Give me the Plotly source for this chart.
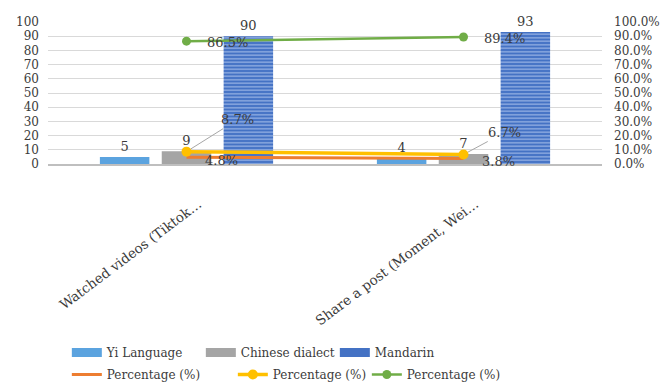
import plotly.graph_objects as go

categories = ["Watched videos (Tiktok…", "Share a post (Moment, Wei…"]
yi_counts = [5, 4]
dialect_counts = [9, 7]
mandarin_counts = [90, 93]
yi_pct = [4.8, 3.8]
dialect_pct = [8.7, 6.7]
mandarin_pct = [86.5, 89.4]
left_ticks = list(range(0, 101, 10))
right_ticks = list(range(0, 101, 10))
right_tick_labels = [f"{v:.1f}%" for v in right_ticks]
bar_names = ["Yi Language", "Chinese dialect", "Mandarin"]
line_name = "Percentage (%)"

FONT = "DejaVu Serif"
TXT = "#3b3b3b"
C_YI = "#5BA3DF"
C_DIA = "#A5A5A5"
C_MAN = "#4472C4"
C_OR = "#ED7D31"
C_YE = "#FFC000"
C_GR = "#70AD47"

fig = go.Figure()

bar_specs = [
    (bar_names[0], yi_counts, C_YI, None),
    (bar_names[1], dialect_counts, C_DIA, None),
    (bar_names[2], mandarin_counts, C_MAN,
     dict(shape="-", bgcolor=C_MAN, fgcolor="#A9C1EC", size=3.5, solidity=0.3)),
]
for name, vals, color, pattern in bar_specs:
    marker = dict(color=color, line=dict(width=0))
    if pattern:
        marker["pattern"] = pattern
    fig.add_trace(go.Bar(
        x=categories, y=vals, name=name, showlegend=False, marker=marker,
        texttemplate="%{y}", textposition="outside",
        textfont=dict(family=FONT, size=13, color=TXT), cliponaxis=False,
    ))

# legend proxies for bars (wide rectangles as in the original)
for name, color in zip(bar_names, [C_YI, C_DIA, C_MAN]):
    fig.add_trace(go.Scatter(x=[None], y=[None], mode="lines", name=name,
                             line=dict(color=color, width=9), legend="legend"))

fig.add_trace(go.Scatter(x=categories, y=yi_pct, yaxis="y2", mode="lines", name=line_name,
                         line=dict(color=C_OR, width=3), legend="legend2", legendwidth=121))
fig.add_trace(go.Scatter(x=categories, y=dialect_pct, yaxis="y2", mode="lines+markers", name=line_name,
                         line=dict(color=C_YE, width=3.5), marker=dict(size=10, color=C_YE),
                         legend="legend2"))
fig.add_trace(go.Scatter(x=categories, y=mandarin_pct, yaxis="y2", mode="lines+markers", name=line_name,
                         line=dict(color=C_GR, width=2.5), marker=dict(size=9, color=C_GR),
                         legend="legend2"))

afont = dict(family=FONT, size=13, color=TXT)
annotations = []
for c, v in zip(categories, yi_pct):
    annotations.append(dict(x=c, y=v, xref="x", yref="y2", text=f"{v}%", showarrow=False,
                            xanchor="left", yanchor="middle", xshift=16, yshift=-3, font=afont))
for c, v in zip(categories, mandarin_pct):
    annotations.append(dict(x=c, y=v, xref="x", yref="y2", text=f"{v}%", showarrow=False,
                            xanchor="left", yanchor="middle", xshift=18, yshift=-1, font=afont))
for (c, v), (ax, ay) in zip(zip(categories, dialect_pct), [(51, -32), (41, -22)]):
    annotations.append(dict(x=c, y=v, xref="x", yref="y2", text=f"{v}%", showarrow=True,
                            arrowhead=0, arrowwidth=1, arrowcolor="#A6A6A6", ax=ax, ay=ay,
                            standoff=5, font=afont))

leg_common = dict(orientation="h", xanchor="left", yanchor="top", x=0.034,
                  font=dict(family=FONT, size=12, color=TXT), entrywidth=89,
                  bgcolor="rgba(0,0,0,0)", borderwidth=0, itemwidth=30)

fig.update_layout(
    width=670, height=386,
    margin=dict(l=48, r=68, t=22, b=222, autoexpand=False),
    paper_bgcolor="white", plot_bgcolor="white",
    template="none",
    barmode="group", bargap=0.33, bargroupgap=0.2,
    font=dict(family=FONT, color=TXT),
    xaxis=dict(type="category", tickangle=-37, tickfont=dict(family=FONT, size=13.5, color=TXT),
               showline=True, linecolor="#BFBFBF", linewidth=2, showgrid=False, ticks="",
               automargin=False, zeroline=False, ticklabelstandoff=25, ticklabelshift=12),
    yaxis=dict(range=[0, 100], tickvals=left_ticks, showgrid=True, gridcolor="#D9D9D9", gridwidth=1.2,
               zeroline=False, showline=False, ticks="", automargin=False, ticklabelstandoff=8,
               tickfont=dict(family=FONT, size=12, color=TXT)),
    yaxis2=dict(range=[0, 100], tickvals=right_ticks, ticktext=right_tick_labels,
                overlaying="y", side="right", showgrid=False, zeroline=False, showline=False,
                ticks="", automargin=False, ticklabelstandoff=11,
                tickfont=dict(family=FONT, size=12, color=TXT)),
    legend=dict(leg_common, y=-1.225),
    legend2=dict(leg_common, y=-1.38),
    annotations=annotations,
)

fig.write_html("out.html")
